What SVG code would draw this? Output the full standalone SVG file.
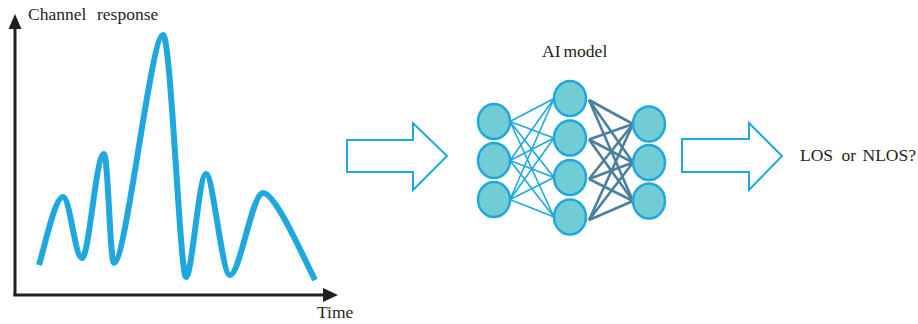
<svg xmlns="http://www.w3.org/2000/svg" width="918" height="324" viewBox="0 0 918 324">
<defs>
<filter id="soft" x="-10%" y="-10%" width="120%" height="120%"><feGaussianBlur stdDeviation="0.5"/></filter>
</defs>
<style>
.t{font-family:"Liberation Serif","Times New Roman",serif;font-size:17.5px;fill:#231f20}
.ax{stroke:#231f20;stroke-width:3;fill:none}
.axh{fill:#231f20}
.curve{fill:none;stroke:#1fa8e0;stroke-width:6;stroke-linejoin:round}
.big{fill:#fff;stroke:#1fa8e0;stroke-width:2}
.n{fill:#72ccd4;stroke:#1fa8e0;stroke-width:2.5}
.e1{stroke:#1fa8e0;stroke-width:1.6}
.e2{stroke:#4b7f9c;stroke-width:2.6}
</style>
<g id="plot">
<line class="ax" x1="15" y1="27" x2="15" y2="296"/>
<polygon class="axh" points="15,14 8.5,29 21.5,29"/>
<line class="ax" x1="13.5" y1="295" x2="326" y2="295"/>
<polygon class="axh" points="338,295 323,288 323,302"/>
<text class="t" y="20"><tspan x="28">Channel</tspan><tspan x="97">response</tspan></text>
<text class="t" x="317" y="318">Time</text>
<path class="curve" d="M39,265 C45,245 55,197 63,197 C70,197 75,258 82,258 C89,258 96,154 104,154 C108,154 110,263 114,263 C126,263 151,35 163,35 C171,35 180,277 186,277 C192,277 199,174 206,174 C213,174 222,275 230,275 C240,275 252,193 263,193 C275,193 300,250 315,280"/>
</g>
<g id="arrow1"><polygon class="big" points="347,140 413,140 413,123 447,156 413,190 413,172 347,172"/></g>
<g id="arrow2"><polygon class="big" points="682,139 749,139 749,123 782,156 749,190 749,172 682,172"/></g>
<g id="label-ai"><text class="t" y="57"><tspan x="542">AI</tspan><tspan x="563.5">model</tspan></text></g>
<g id="label-out"><text class="t" y="161"><tspan x="800">LOS</tspan><tspan x="841.5">or</tspan><tspan x="862.5">NLOS?</tspan></text></g>
<g id="connectors">
<g id="layer1-2">
<line class="e1" x1="510" y1="121.5" x2="554" y2="98.5"/>
<line class="e1" x1="510" y1="121.5" x2="554" y2="138"/>
<line class="e1" x1="510" y1="121.5" x2="554" y2="177.5"/>
<line class="e1" x1="510" y1="121.5" x2="554" y2="217"/>
<line class="e1" x1="510" y1="160.5" x2="554" y2="98.5"/>
<line class="e1" x1="510" y1="160.5" x2="554" y2="138"/>
<line class="e1" x1="510" y1="160.5" x2="554" y2="177.5"/>
<line class="e1" x1="510" y1="160.5" x2="554" y2="217"/>
<line class="e1" x1="510" y1="199.5" x2="554" y2="98.5"/>
<line class="e1" x1="510" y1="199.5" x2="554" y2="138"/>
<line class="e1" x1="510" y1="199.5" x2="554" y2="177.5"/>
<line class="e1" x1="510" y1="199.5" x2="554" y2="217"/>
</g>
<g id="layer2-3" filter="url(#soft)">
<line class="e2" x1="589" y1="100" x2="633" y2="124"/>
<line class="e2" x1="589" y1="100" x2="633" y2="162.5"/>
<line class="e2" x1="589" y1="100" x2="633" y2="201"/>
<line class="e2" x1="589" y1="139.5" x2="633" y2="124"/>
<line class="e2" x1="589" y1="139.5" x2="633" y2="162.5"/>
<line class="e2" x1="589" y1="139.5" x2="633" y2="201"/>
<line class="e2" x1="589" y1="179" x2="633" y2="124"/>
<line class="e2" x1="589" y1="179" x2="633" y2="162.5"/>
<line class="e2" x1="589" y1="179" x2="633" y2="201"/>
<line class="e2" x1="589" y1="220" x2="633" y2="124"/>
<line class="e2" x1="589" y1="220" x2="633" y2="162.5"/>
<line class="e2" x1="589" y1="220" x2="633" y2="201"/>
</g>
</g>
<g id="in1"><ellipse class="n" cx="494" cy="121.5" rx="16" ry="17.5"/></g>
<g id="in2"><ellipse class="n" cx="494" cy="160.5" rx="16" ry="17.5"/></g>
<g id="in3"><ellipse class="n" cx="494" cy="199.5" rx="16" ry="17.5"/></g>
<g id="h1"><ellipse class="n" cx="570" cy="98.5" rx="16" ry="17.5"/></g>
<g id="h2"><ellipse class="n" cx="570" cy="138" rx="16" ry="17.5"/></g>
<g id="h3"><ellipse class="n" cx="570" cy="177.5" rx="16" ry="17.5"/></g>
<g id="h4"><ellipse class="n" cx="570" cy="217" rx="16" ry="17.5"/></g>
<g id="out1"><ellipse class="n" cx="649" cy="124" rx="16" ry="17.5"/></g>
<g id="out2"><ellipse class="n" cx="649" cy="162.5" rx="16" ry="17.5"/></g>
<g id="out3"><ellipse class="n" cx="649" cy="201" rx="16" ry="17.5"/></g>
</svg>
